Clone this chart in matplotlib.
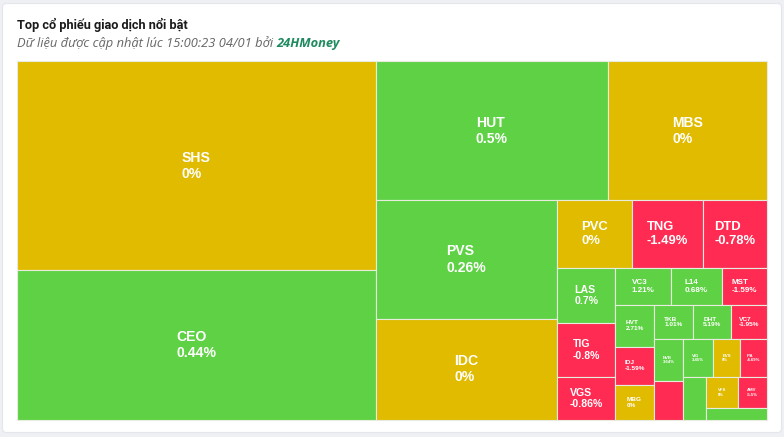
import matplotlib
matplotlib.use("Agg")
import matplotlib.pyplot as plt
from matplotlib.patches import Rectangle, FancyBboxPatch

# ---------------- data ----------------
tickers = ["SHS", "CEO", "HUT", "MBS", "PVS", "IDC", "PVC", "TNG", "DTD",
           "LAS", "TIG", "VGS", "VC3", "L14", "MST", "HVT", "IDJ", "MBG",
           "TKB", "DHT", "VC7", "NVB", "", "VIG", "EVS", "IPA", "", "VFS",
           "AMV", ""]
trade_values = [74.9, 53.6, 32.4, 22.1, 21.4, 18.4, 5.03, 4.79, 4.32,
                3.19, 3.13, 2.49, 2.05, 1.89, 1.67, 1.60, 1.48, 1.35,
                1.34, 1.29, 1.21, 1.25, 1.14, 1.12, 1.05, 1.01, 0.99, 0.96,
                0.885, 0.756]
changes = [0, 0.44, 0.5, 0, 0.26, 0, 0, -1.49, -0.78,
           0.7, -0.8, -0.86, 1.21, 0.68, -1.59, 2.71, -1.59, 0,
           1.01, 5.19, -1.95, 3.64, -1.0, 3.45, 0, -4.69, 1.0, 0,
           -5.5, 1.0]

title = "Top cổ phiếu giao dịch nổi bật"
subtitle = "Dữ liệu được cập nhật lúc 15:00:23 04/01 bởi "
brand = "24HMoney"

# ---------------- colours ----------------
GREEN = "#5ed244"
YELLOW = "#e0bb00"
RED = "#ff2b52"


def color_for(c):
    if c > 0:
        return GREEN
    if c < 0:
        return RED
    return YELLOW


def fmt_pct(c):
    s = ("%.2f" % c).rstrip("0").rstrip(".")
    return s + "%"


# ---------------- Highcharts-like squarified layout ----------------
def ar(a, b):
    return max(a / b, b / a)


class Group:
    def __init__(self, h, w, d):
        self.height = h
        self.width = w
        self.direction = d
        self.total = 0.0
        self.nW = self.lW = self.nH = self.lH = 0.0
        self.elArr = []
        self.lR = float("nan")
        self.nR = float("nan")

    def add(self, el):
        lp = self.elArr[-1] if self.elArr else None
        self.total += el
        if self.direction == 0:
            self.lW = self.nW
            self.nW = self.total / self.height
            if lp is not None and self.lW > 0:
                self.lR = ar(self.lW, lp / self.lW)
                self.nR = ar(self.nW, lp / self.nW)
            else:
                self.lR = self.nR = float("nan")
        else:
            self.lH = self.nH
            self.nH = self.total / self.width
            if lp is not None and self.lH > 0:
                self.lR = ar(lp / self.lH, self.lH)
                self.nR = ar(lp / self.nH, self.nH)
            else:
                self.lR = self.nR = float("nan")
        self.elArr.append(el)

    def reset(self):
        self.nW = self.lW = 0.0
        self.elArr = []
        self.total = 0.0


def squarify(vals, x0, y0, W, H):
    tot = sum(vals)
    out = []
    pos = {"x": x0, "y": y0}
    g = Group(H, W, 0)

    def calc(last):
        end = len(g.elArr) - 1
        if last:
            gW, gH, keep = g.nW, g.nH, None
        else:
            gW, gH, keep = g.lW, g.lH, g.elArr[end]
        for i, p in enumerate(g.elArr):
            if last or i < end:
                if g.direction == 0:
                    pw, ph = gW, p / gW
                    out.append((pos["x"], pos["y"], pw, ph))
                    pos["y"] += ph
                else:
                    ph, pw = gH, p / gH
                    out.append((pos["x"], pos["y"], pw, ph))
                    pos["x"] += pw
        g.reset()
        if g.direction == 0:
            g.width -= gW
        else:
            g.height -= gH
        pos["y"] = y0 + (H - g.height)
        pos["x"] = x0 + (W - g.width)
        g.direction = 1 - g.direction
        if not last:
            g.add(keep)

    n = len(vals)
    for i, v in enumerate(vals):
        g.add(v / tot * W * H)
        if g.nR > g.lR:
            calc(False)
        if i == n - 1:
            calc(True)
    return out


# ---------------- figure ----------------
FW, FH = 784, 437
fig = plt.figure(figsize=(FW / 100, FH / 100), dpi=100)
fig.patch.set_facecolor("#eef0f4")
ax = fig.add_axes([0, 0, 1, 1])
ax.set_xlim(0, FW)
ax.set_ylim(FH, 0)
ax.axis("off")

card = FancyBboxPatch((2.5, 3.5), FW - 5, FH - 8,
                      boxstyle="round,pad=0,rounding_size=4",
                      facecolor="white", edgecolor="#e3e6ea", linewidth=0.8)
ax.add_patch(card)

ax.text(17, 29.5, title, fontsize=9.2, fontweight="bold", color="#1a1a1a",
        family=["Roboto", "DejaVu Sans"], va="baseline", ha="left")
t = ax.text(17, 46.5, subtitle, fontsize=9.3, style="italic", color="#666666",
            family=["Open Sans", "DejaVu Sans"], va="baseline", ha="left")
fig.canvas.draw()
bb = t.get_window_extent(renderer=fig.canvas.get_renderer())
x_end = ax.transData.inverted().transform((bb.x1, bb.y0))[0]
ax.text(x_end, 46.5, brand, fontsize=9.3, style="italic", fontweight="bold",
        color="#1f8a5f", family=["Open Sans", "DejaVu Sans"],
        va="baseline", ha="left")

PX, PY, PW, PH = 17, 61, 750, 359
rects = squarify(trade_values, PX, PY, PW, PH)

tiers = [14] * 6 + [13] * 3 + [10.5] * 3 + [8] * 3 + [6.5] * 6
for i, ((x, y, w, h), name, chg) in enumerate(zip(rects, tickers, changes)):
    ax.add_patch(Rectangle((x, y), w, h, facecolor=color_for(chg),
                           edgecolor="#e8ecdf", linewidth=0.8))
    if name:
        fs_px = tiers[i] if i < len(tiers) else 4.2
        ax.text(x + w / 2, y + h / 2, name + "\n" + fmt_pct(chg),
                ha="center", va="center", multialignment="left",
                fontsize=fs_px * 0.72, fontweight="bold", color="white",
                family=["Liberation Sans", "DejaVu Sans"], linespacing=1.2)

fig.savefig("out.png", dpi=100, facecolor=fig.get_facecolor())
